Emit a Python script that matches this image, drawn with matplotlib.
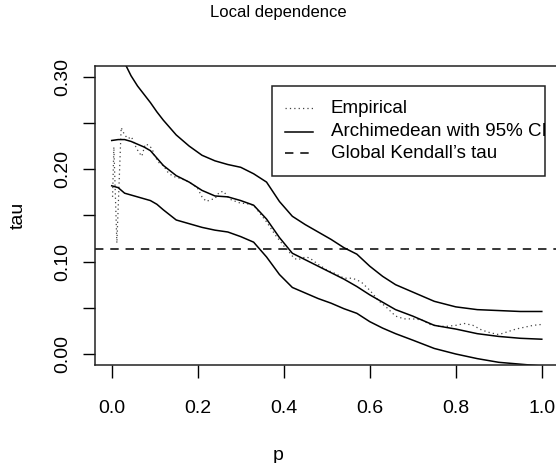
import numpy as np
import matplotlib
matplotlib.use("Agg")
import matplotlib.pyplot as plt
from matplotlib.lines import Line2D
from matplotlib.patches import Rectangle

plt.rcParams['font.family'] = ['Liberation Sans', 'DejaVu Sans']

# ---- data ----
p_arch = [0.0, 0.015, 0.03, 0.045, 0.06, 0.075, 0.09, 0.105, 0.12, 0.15, 0.18, 0.21, 0.24, 0.27, 0.30,
          0.33, 0.36, 0.39, 0.42, 0.45, 0.48, 0.51, 0.54, 0.57, 0.60, 0.63, 0.66,
          0.70, 0.75, 0.80, 0.85, 0.90, 0.95, 1.0]
tau_arch = [0.231, 0.232, 0.232, 0.230, 0.227, 0.224, 0.220, 0.212, 0.204, 0.193, 0.186, 0.177, 0.171, 0.170, 0.166,
            0.161, 0.146, 0.126, 0.109, 0.102, 0.095, 0.088, 0.081, 0.073, 0.064, 0.056, 0.048,
            0.041, 0.031, 0.027, 0.022, 0.019, 0.017, 0.016]
tau_upper = [0.345, 0.330, 0.315, 0.301, 0.290, 0.281, 0.272, 0.262, 0.253, 0.237, 0.225, 0.215, 0.209, 0.205, 0.202,
             0.195, 0.186, 0.165, 0.149, 0.140, 0.132, 0.124, 0.115, 0.108, 0.095, 0.084, 0.075,
             0.067, 0.057, 0.051, 0.048, 0.047, 0.046, 0.046]
tau_lower = [0.182, 0.180, 0.174, 0.172, 0.170, 0.168, 0.166, 0.162, 0.156, 0.145, 0.141, 0.137, 0.134, 0.132, 0.127,
             0.121, 0.105, 0.086, 0.072, 0.066, 0.060, 0.055, 0.049, 0.044, 0.035, 0.028, 0.022,
             0.015, 0.006, 0.000, -0.005, -0.009, -0.011, -0.013]

p_emp = [0.002, 0.005, 0.012, 0.022, 0.03, 0.038, 0.046, 0.054, 0.062, 0.07, 0.078, 0.086,
         0.094, 0.10, 0.11, 0.12, 0.13, 0.14, 0.15, 0.16, 0.17, 0.18, 0.19, 0.20, 0.21, 0.22,
         0.23, 0.24, 0.25, 0.26, 0.27, 0.28, 0.29, 0.30, 0.31, 0.32, 0.33, 0.34, 0.35, 0.36,
         0.37, 0.38, 0.39, 0.40, 0.41, 0.42, 0.43, 0.44, 0.45, 0.46, 0.48, 0.50, 0.52, 0.54,
         0.56, 0.58, 0.60, 0.62, 0.64, 0.66, 0.68, 0.70, 0.72, 0.74, 0.76, 0.78, 0.80, 0.82,
         0.84, 0.86, 0.88, 0.90, 0.92, 0.94, 0.96, 0.98, 1.0]
tau_emp = [0.170, 0.224, 0.120, 0.245, 0.237, 0.233, 0.235, 0.226, 0.219, 0.214, 0.227, 0.226,
           0.222, 0.214, 0.207, 0.204, 0.197, 0.193, 0.191, 0.190, 0.188, 0.186, 0.183, 0.179,
           0.170, 0.165, 0.167, 0.168, 0.175, 0.176, 0.170, 0.166, 0.165, 0.163, 0.163, 0.162,
           0.161, 0.155, 0.149, 0.143, 0.136, 0.129, 0.123, 0.117, 0.112, 0.106, 0.102, 0.103,
           0.105, 0.104, 0.097, 0.091, 0.087, 0.082, 0.082, 0.078, 0.069, 0.058, 0.050, 0.041,
           0.038, 0.038, 0.037, 0.032, 0.030, 0.030, 0.031, 0.033, 0.031, 0.026, 0.023, 0.021,
           0.024, 0.027, 0.029, 0.031, 0.032]

global_tau = 0.114

x_ticks = [0.0, 0.2, 0.4, 0.6, 0.8, 1.0]
x_ticklabels = ["0.0", "0.2", "0.4", "0.6", "0.8", "1.0"]
y_ticks = [0.0, 0.05, 0.10, 0.15, 0.20, 0.25, 0.30]
y_ticklabels = ["0.00", "", "0.10", "", "0.20", "", "0.30"]

legend_labels = ["Empirical", "Archimedean with 95% CI", "Global Kendall\u2019s tau"]

# ---- figure ----
W, H = 556, 463
fig = plt.figure(figsize=(W / 100, H / 100), dpi=100)

def fx(px):
    return px / W

def fy(py):
    return 1 - py / H

left, right, top, bottom = 94.5, 559.0, 66.0, 365.0
ax = fig.add_axes([fx(left), fy(bottom), fx(right) - fx(left), fy(top) - fy(bottom)])

ax.plot(p_emp, tau_emp, color='#444444', lw=0.9, linestyle=(0, (1, 2.5)))
ax.plot(p_arch, tau_arch, color='black', lw=1.1)
ax.plot(p_arch, tau_upper, color='black', lw=1.1)
ax.plot(p_arch, tau_lower, color='black', lw=1.1)
ax.axhline(global_tau, color='black', lw=1.1, linestyle=(0, (5.5, 4.5)))

ax.set_xlim(-0.04, 1.04)
ax.set_ylim(-0.0119, 0.3116)
ax.set_xticks(x_ticks)
ax.set_xticklabels(x_ticklabels)
ax.set_yticks(y_ticks)
ax.set_yticklabels(y_ticklabels, rotation=90, va='center')
ax.tick_params(direction='out', length=9, width=1, labelsize=14, colors='black')
ax.tick_params(axis='x', pad=16)
ax.tick_params(axis='y', pad=8)
for s in ax.spines.values():
    s.set_linewidth(1.1)
    s.set_color('#222222')

fig.text(fx(278), fy(13), "Local dependence", ha='center', va='center', fontsize=12)
fig.text(fx(278), fy(455), "p", ha='center', va='center', fontsize=14)
fig.text(fx(18), fy(215), "tau", ha='center', va='center', fontsize=14, rotation=90)

# ---- legend (R style) ----
fig.add_artist(Rectangle((fx(271.7), fy(176)), fx(545) - fx(271.7), fy(86) - fy(176),
                         transform=fig.transFigure, fill=False, edgecolor='#222222', lw=1.1))
rows = [108.3, 131.7, 153.3]
styles = [dict(color='#444444', lw=0.9, linestyle=(0, (1, 2.5))),
          dict(color='black', lw=1.1, linestyle='-'),
          dict(color='black', lw=1.1, linestyle=(0, (5.5, 4.5)))]
for ry, lab, st in zip(rows, legend_labels, styles):
    fig.add_artist(Line2D([fx(285), fx(313)], [fy(ry), fy(ry)], transform=fig.transFigure, **st))
    fig.text(fx(331), fy(ry), lab, ha='left', va='center', fontsize=13.5)

fig.savefig("out.png", dpi=100)
